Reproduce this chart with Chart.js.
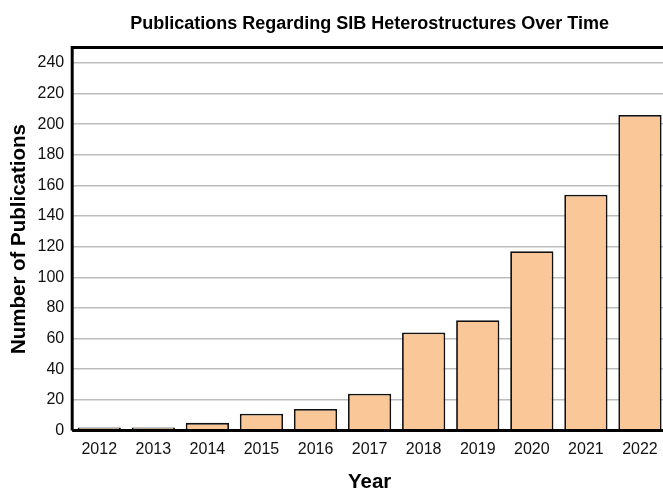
<!DOCTYPE html>
<html>
<head>
<meta charset="utf-8">
<script src="https://cdn.jsdelivr.net/npm/chart.js@4"></script>
<style>
html,body{margin:0;padding:0;overflow:hidden;background:#fff;}
#wrap{width:680px;height:489px;position:relative;}
</style>
</head>
<body>
<div id="wrap"><canvas id="c"></canvas></div>
<script>
const years = ['2012','2013','2014','2015','2016','2017','2018','2019','2020','2021','2022'];
const publications = [2, 2, 5, 11, 14, 24, 64, 72, 117, 154, 206];
const chartTitle = 'Publications Regarding SIB Heterostructures Over Time';
const xTitle = 'Year';
const yTitle = 'Number of Publications';

const frame = {
  id: 'frame',
  afterDraw(chart) {
    const {ctx, chartArea: a} = chart;
    ctx.save();
    ctx.strokeStyle = '#000';
    ctx.lineWidth = 3;
    ctx.beginPath();
    ctx.moveTo(a.left, a.bottom);
    ctx.lineTo(a.left, a.top);
    ctx.lineTo(a.right, a.top);
    ctx.moveTo(a.left, a.bottom);
    ctx.lineTo(a.right, a.bottom);
    ctx.stroke();
    ctx.restore();
  }
};

const FF = 'Liberation Sans, Arial, sans-serif';

new Chart(document.getElementById('c'), {
  type: 'bar',
  data: {
    labels: years,
    datasets: [{
      data: publications,
      backgroundColor: '#FAC898',
      borderColor: '#111',
      borderWidth: 1.8,
      barPercentage: 0.8,
      categoryPercentage: 1.0
    }]
  },
  options: {
    responsive: true,
    maintainAspectRatio: false,
    animation: false,
    layout: {padding: {top: 11, right: 13, left: 9, bottom: -4}},
    plugins: {
      legend: {display: false},
      tooltip: {enabled: false},
      title: {
        display: true,
        text: chartTitle,
        fullSize: false,
        color: '#000',
        font: {family: FF, size: 18, weight: 'bold'},
        padding: {top: 2, bottom: 13}
      }
    },
    scales: {
      x: {
        grid: {display: false, drawTicks: false},
        border: {display: false},
        ticks: {color: '#111', padding: 11, font: {family: FF, size: 16, lineHeight: 1}, maxRotation: 0},
        title: {display: true, text: xTitle, color: '#000', font: {family: FF, size: 20.5, weight: 'bold', lineHeight: 1}, padding: {top: 4, bottom: 0}}
      },
      y: {
        min: 0,
        max: 250,
        grid: {color: '#bdbdbd', lineWidth: 1.5, drawTicks: false},
        border: {display: false},
        ticks: {stepSize: 20, includeBounds: false, color: '#111', padding: 8, font: {family: FF, size: 16}},
        title: {display: true, text: yTitle, color: '#000', font: {family: FF, size: 20.5, weight: 'bold', lineHeight: 1}, padding: {top: 0, bottom: 0}}
      }
    }
  },
  plugins: [frame]
});
</script>
</body>
</html>
